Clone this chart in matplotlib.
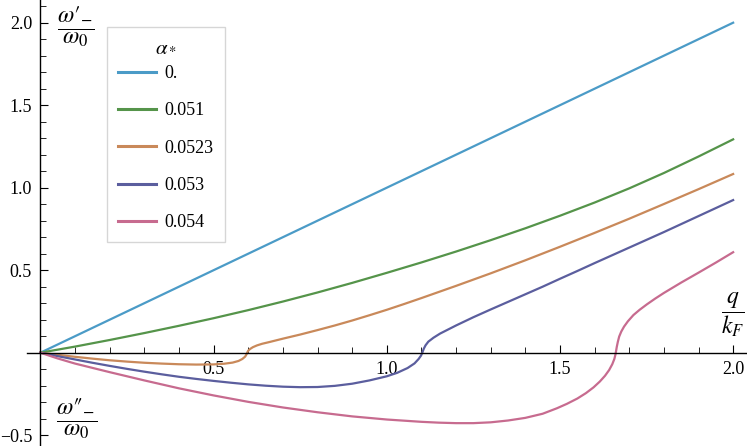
import matplotlib
matplotlib.use("Agg")
import matplotlib.pyplot as plt
from matplotlib.ticker import FixedLocator

plt.rcParams['mathtext.fontset'] = 'stix'
plt.rcParams['font.family'] = ['Liberation Serif', 'DejaVu Serif']

labels = ["0.", "0.051", "0.0523", "0.053", "0.054"]
colors = ["#4b9bc7", "#55944a", "#c9895a", "#5b5e9e", "#c76b8f"]

x_blue = [0.0, 2.0]
y_blue = [0.0, 2.0]

x_green = [0.0, 0.1, 0.2, 0.3, 0.4, 0.5, 0.6, 0.7, 0.8, 0.9, 1.0, 1.1, 1.2, 1.3, 1.4, 1.5, 1.6, 1.7, 1.8, 1.9, 2.0]
y_green = [0.0, 0.037, 0.077, 0.119, 0.163, 0.209, 0.258, 0.31, 0.365, 0.423, 0.484, 0.547, 0.613, 0.682, 0.754, 0.83,
           0.91, 0.996, 1.089, 1.189, 1.293]

x_orange = [0.0, 0.05, 0.1, 0.15, 0.2, 0.25, 0.3, 0.35, 0.4, 0.45, 0.5, 0.53, 0.555, 0.572, 0.583, 0.591, 0.595, 0.597,
            0.6, 0.605, 0.613, 0.625, 0.64, 0.66, 0.7, 0.75, 0.8, 0.85, 0.9, 0.95, 1.0, 1.05, 1.1, 1.2, 1.3, 1.4, 1.5,
            1.6, 1.7, 1.8, 1.9, 2.0]
y_orange = [0.0, -0.013, -0.025, -0.036, -0.046, -0.054, -0.061, -0.066, -0.07, -0.072, -0.071, -0.067, -0.06, -0.05,
            -0.038, -0.024, -0.01, 0.0, 0.012, 0.022, 0.033, 0.044, 0.054, 0.064, 0.085, 0.11, 0.137, 0.165, 0.195,
            0.227, 0.26, 0.295, 0.331, 0.405, 0.481, 0.56, 0.642, 0.726, 0.812, 0.901, 0.991, 1.083]

x_purple = [0.0, 0.05, 0.1, 0.15, 0.2, 0.25, 0.3, 0.35, 0.4, 0.45, 0.5, 0.55, 0.6, 0.65, 0.7, 0.75, 0.8, 0.85, 0.9,
            0.95, 1.0, 1.03, 1.06, 1.08, 1.092, 1.099, 1.103, 1.107, 1.112, 1.12, 1.135, 1.154, 1.2, 1.25, 1.3, 1.35,
            1.4, 1.45, 1.5, 1.55, 1.6, 1.7, 1.8, 1.9, 2.0]
y_purple = [0.0, -0.021, -0.041, -0.061, -0.08, -0.098, -0.115, -0.131, -0.146, -0.159, -0.171, -0.182, -0.192, -0.2,
            -0.206, -0.209, -0.208, -0.201, -0.188, -0.168, -0.143, -0.122, -0.093, -0.065, -0.038, -0.017, 0.003,
            0.025, 0.045, 0.067, 0.091, 0.116, 0.165, 0.215, 0.262, 0.308, 0.354, 0.4, 0.448, 0.495, 0.543, 0.637,
            0.731, 0.828, 0.925]

x_pink = [0.0, 0.05, 0.1, 0.2, 0.3, 0.4, 0.5, 0.6, 0.7, 0.8, 0.9, 1.0, 1.1, 1.15, 1.2, 1.25, 1.3, 1.35, 1.4, 1.45,
          1.491, 1.52, 1.55, 1.575, 1.597, 1.615, 1.63, 1.642, 1.651, 1.657, 1.66, 1.662, 1.664, 1.667, 1.671, 1.677,
          1.685, 1.696, 1.712, 1.73, 1.751, 1.775, 1.8, 1.85, 1.9, 1.95, 2.0]
y_pink = [0.0, -0.035, -0.066, -0.118, -0.168, -0.216, -0.259, -0.298, -0.332, -0.361, -0.386, -0.405, -0.419,
          -0.424, -0.427, -0.427, -0.422, -0.411, -0.395, -0.37, -0.337, -0.31, -0.278, -0.245, -0.21, -0.175,
          -0.14, -0.105, -0.07, -0.038, -0.013, 0.01, 0.035, 0.065, 0.098, 0.128, 0.158, 0.19, 0.228, 0.26, 0.293,
          0.328, 0.362, 0.425, 0.485, 0.546, 0.609]

series = [(x_blue, y_blue), (x_green, y_green), (x_orange, y_orange), (x_purple, y_purple), (x_pink, y_pink)]

fig = plt.figure(figsize=(7.47, 4.46), dpi=100)
ax = fig.add_axes([0, 0, 1, 1])
ax.set_xlim(-0.1167, 2.040)
ax.set_ylim(-0.5655, 2.1376)

for (xs, ys), c, lab in zip(series, colors, labels):
    ax.plot(xs, ys, color=c, lw=1.6, label=lab, solid_joinstyle='round')

for s in ['top', 'right']:
    ax.spines[s].set_visible(False)
ax.spines['left'].set_position(('data', 0))
ax.spines['bottom'].set_position(('data', 0))
ax.spines['bottom'].set_bounds(-0.04, 2.04)
ax.spines['left'].set_linewidth(1.0)
ax.spines['bottom'].set_linewidth(1.0)

ax.xaxis.set_major_locator(FixedLocator([0.5, 1.0, 1.5, 2.0]))
ax.xaxis.set_minor_locator(FixedLocator([0.1, 0.2, 0.3, 0.4, 0.6, 0.7, 0.8, 0.9, 1.1, 1.2, 1.3, 1.4,
                                         1.6, 1.7, 1.8, 1.9]))
ax.yaxis.set_major_locator(FixedLocator([-0.5, 0.5, 1.0, 1.5, 2.0]))
ax.yaxis.set_minor_locator(FixedLocator([-0.4, -0.3, -0.2, -0.1, 0.1, 0.2, 0.3, 0.4, 0.6, 0.7, 0.8, 0.9,
                                         1.1, 1.2, 1.3, 1.4, 1.6, 1.7, 1.8, 1.9, 2.1]))
ax.xaxis.set_major_formatter(plt.FuncFormatter(lambda v, p: f"{v:.1f}"))
ax.yaxis.set_major_formatter(plt.FuncFormatter(lambda v, p: f"{v:.1f}".replace("-", "\u2212")))

ax.tick_params(axis='x', which='major', direction='in', length=6, width=0.8, labelsize=13, pad=6)
ax.tick_params(axis='x', which='minor', direction='in', length=4, width=0.6)
ax.tick_params(axis='y', which='major', direction='in', length=6, width=0.8, labelsize=13, pad=6)
ax.tick_params(axis='y', which='minor', direction='in', length=4, width=0.6)

ax.text(0.103, 1.975, "$\\dfrac{\\omega\u2032_{-}}{\\omega_0}$", fontsize=17, ha='center', va='center')
ax.text(0.103, -0.40, "$\\dfrac{\\omega\u2033_{-}}{\\omega_0}$", fontsize=17, ha='center', va='center')
ax.text(2.0, 0.228, r"$\dfrac{q}{k_F}$", fontsize=17, ha='center', va='center')

leg = ax.legend(loc='upper left', bbox_to_anchor=(107/747, 1 - 27/446), borderaxespad=0,
                title=r"$\alpha_*$", fontsize=13, title_fontsize=15, frameon=True, fancybox=False,
                handlelength=2.1, handletextpad=0.5, labelspacing=1.12, borderpad=0.6)
leg._legend_box.sep = 6
leg.get_frame().set_edgecolor('#cccccc')
leg.get_frame().set_linewidth(1.0)
for l in leg.get_lines():
    l.set_linewidth(2.2)

fig.savefig("out.png", dpi=100)
